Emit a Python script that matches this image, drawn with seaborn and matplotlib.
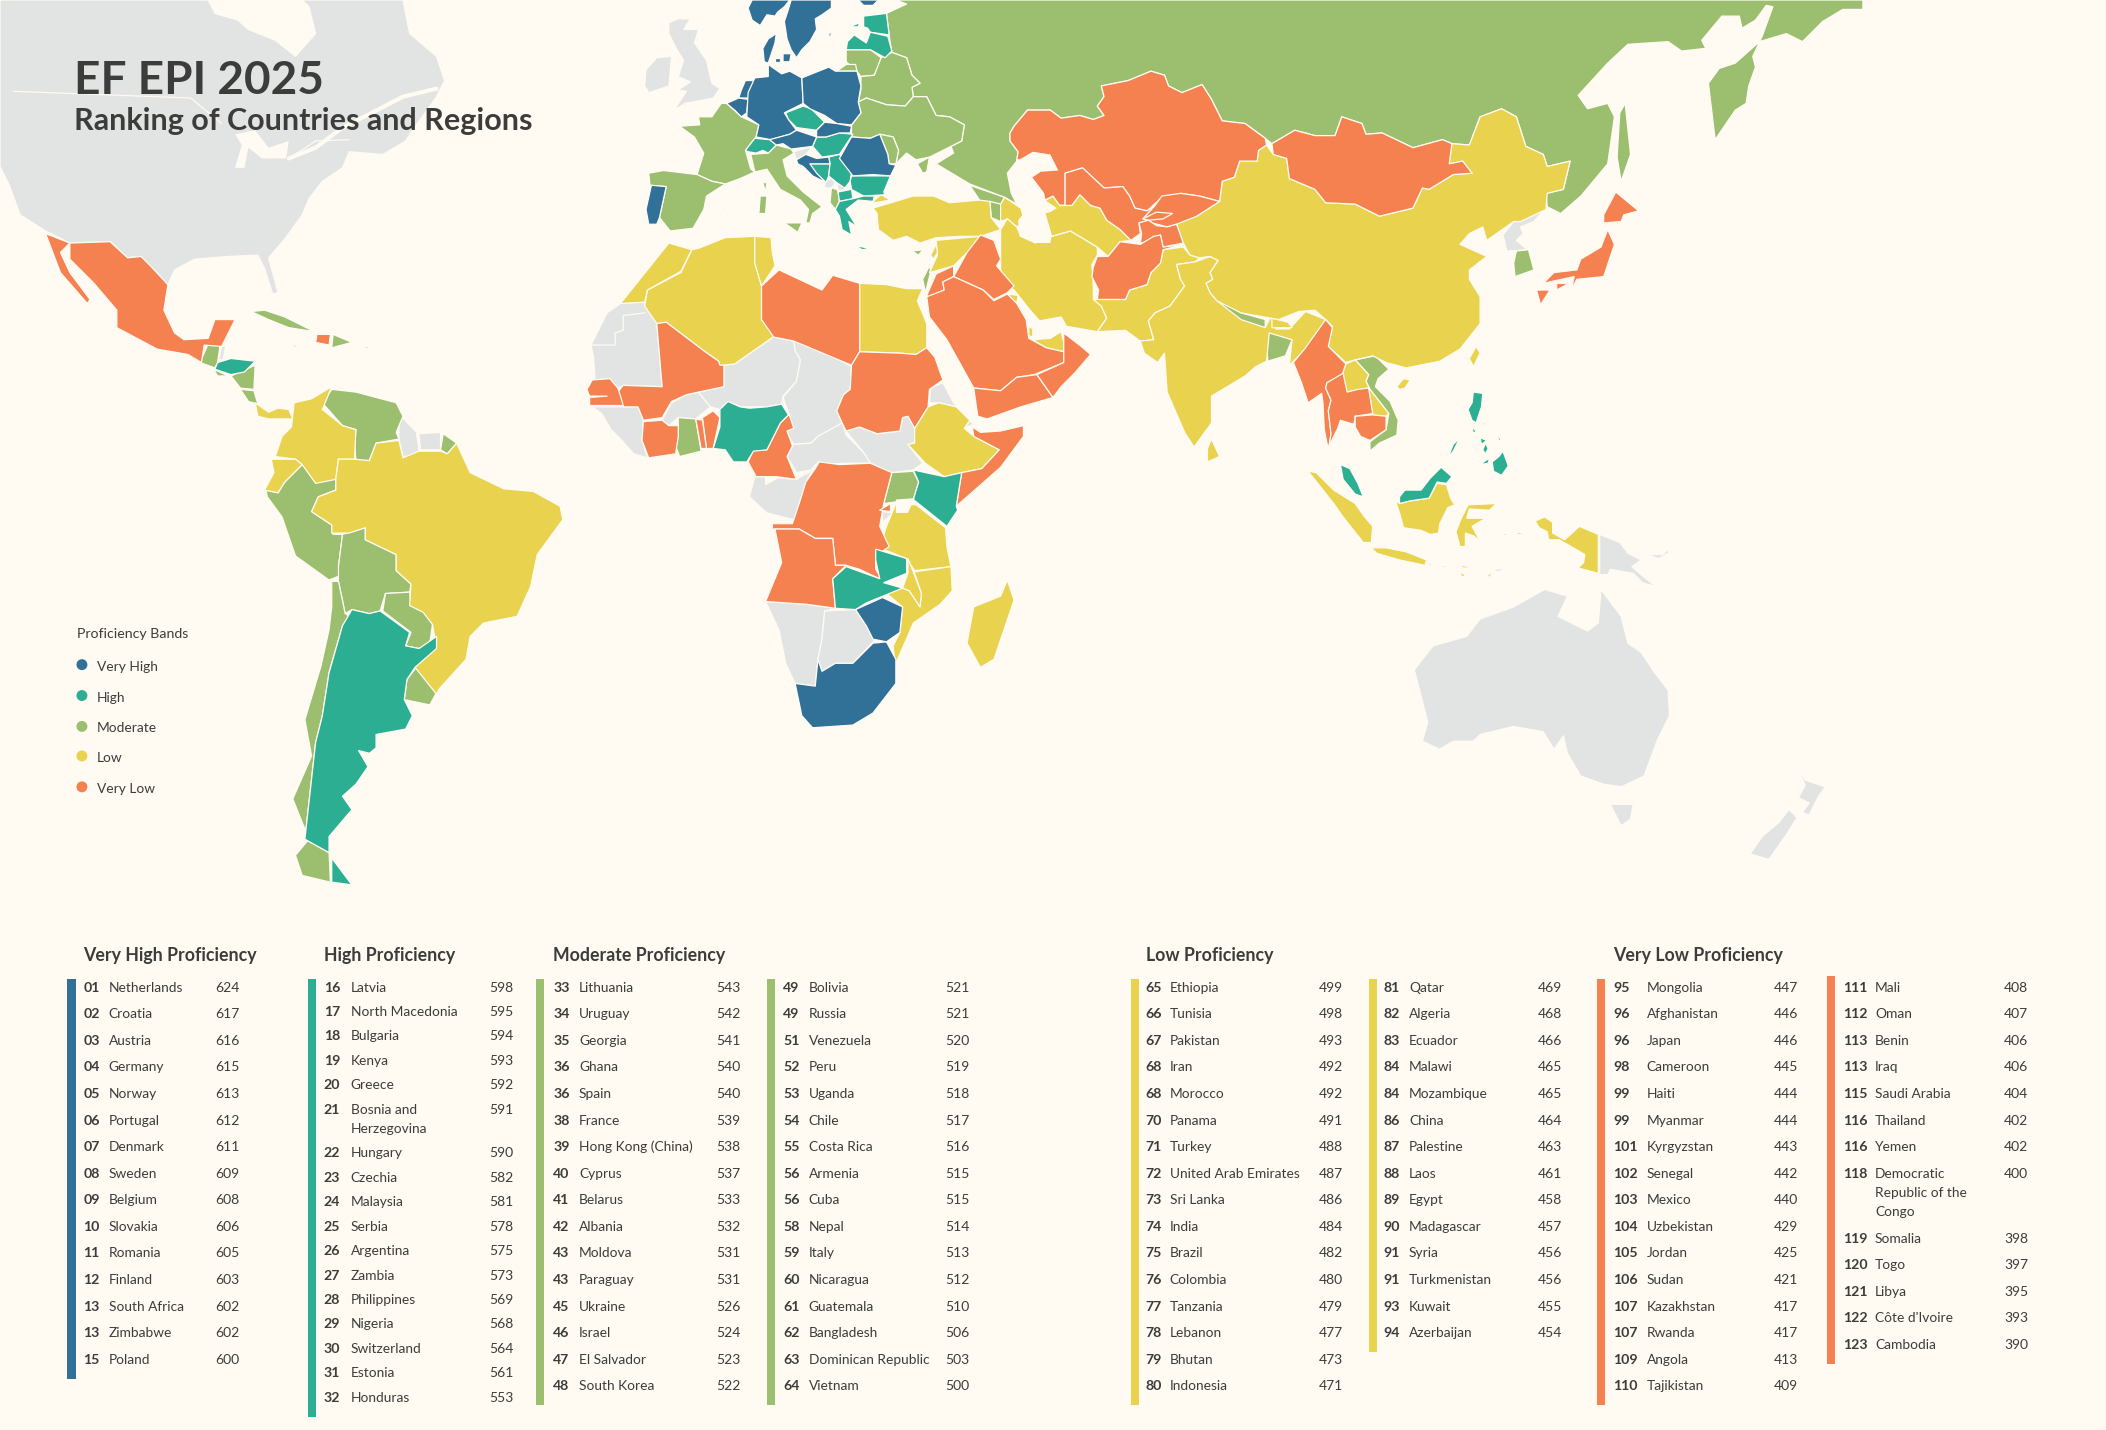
import matplotlib
matplotlib.use("Agg")
import matplotlib.pyplot as plt
import pandas as pd
import seaborn as sns

BG = "#FFFBF3"
INK = "#3C3C3B"
band_colors = {"Very High": "#317097", "High": "#2CAE93", "Moderate": "#9CBE6F",
               "Low": "#E9D24D", "Very Low": "#F4814F"}
NO_DATA = "#E2E3E3"

# table columns: ranks, names, scores. "\n" marks a wrapped name
col1_rank = ["01", "02", "03", "04", "05", "06", "07", "08", "09", "10", "11", "12", "13", "13", "15"]
col1_name = ["Netherlands", "Croatia", "Austria", "Germany", "Norway", "Portugal", "Denmark", "Sweden",
             "Belgium", "Slovakia", "Romania", "Finland", "South Africa", "Zimbabwe", "Poland"]
col1_score = [624, 617, 616, 615, 613, 612, 611, 609, 608, 606, 605, 603, 602, 602, 600]

col2_rank = ["16", "17", "18", "19", "20", "21", "22", "23", "24", "25", "26", "27", "28", "29", "30", "31", "32"]
col2_name = ["Latvia", "North Macedonia", "Bulgaria", "Kenya", "Greece", "Bosnia and\nHerzegovina", "Hungary",
             "Czechia", "Malaysia", "Serbia", "Argentina", "Zambia", "Philippines", "Nigeria", "Switzerland",
             "Estonia", "Honduras"]
col2_score = [598, 595, 594, 593, 592, 591, 590, 582, 581, 578, 575, 573, 569, 568, 564, 561, 553]

col3_rank = ["33", "34", "35", "36", "36", "38", "39", "40", "41", "42", "43", "43", "45", "46", "47", "48"]
col3_name = ["Lithuania", "Uruguay", "Georgia", "Ghana", "Spain", "France", "Hong Kong (China)", "Cyprus", "Belarus",
             "Albania", "Moldova", "Paraguay", "Ukraine", "Israel", "El Salvador", "South Korea"]
col3_score = [543, 542, 541, 540, 540, 539, 538, 537, 533, 532, 531, 531, 526, 524, 523, 522]

col4_rank = ["49", "49", "51", "52", "53", "54", "55", "56", "56", "58", "59", "60", "61", "62", "63", "64"]
col4_name = ["Bolivia", "Russia", "Venezuela", "Peru", "Uganda", "Chile", "Costa Rica", "Armenia", "Cuba", "Nepal",
             "Italy", "Nicaragua", "Guatemala", "Bangladesh", "Dominican Republic", "Vietnam"]
col4_score = [521, 521, 520, 519, 518, 517, 516, 515, 515, 514, 513, 512, 510, 506, 503, 500]

col5_rank = ["65", "66", "67", "68", "68", "70", "71", "72", "73", "74", "75", "76", "77", "78", "79", "80"]
col5_name = ["Ethiopia", "Tunisia", "Pakistan", "Iran", "Morocco", "Panama", "Turkey", "United Arab Emirates",
             "Sri Lanka", "India", "Brazil", "Colombia", "Tanzania", "Lebanon", "Bhutan", "Indonesia"]
col5_score = [499, 498, 493, 492, 492, 491, 488, 487, 486, 484, 482, 480, 479, 477, 473, 471]

col6_rank = ["81", "82", "83", "84", "84", "86", "87", "88", "89", "90", "91", "91", "93", "94"]
col6_name = ["Qatar", "Algeria", "Ecuador", "Malawi", "Mozambique", "China", "Palestine", "Laos", "Egypt",
             "Madagascar", "Syria", "Turkmenistan", "Kuwait", "Azerbaijan"]
col6_score = [469, 468, 466, 465, 465, 464, 463, 461, 458, 457, 456, 456, 455, 454]

col7_rank = ["95", "96", "96", "98", "99", "99", "101", "102", "103", "104", "105", "106", "107", "107", "109", "110"]
col7_name = ["Mongolia", "Afghanistan", "Japan", "Cameroon", "Haiti", "Myanmar", "Kyrgyzstan", "Senegal", "Mexico",
             "Uzbekistan", "Jordan", "Sudan", "Kazakhstan", "Rwanda", "Angola", "Tajikistan"]
col7_score = [447, 446, 446, 445, 444, 444, 443, 442, 440, 429, 425, 421, 417, 417, 413, 409]

col8_rank = ["111", "112", "113", "113", "115", "116", "116", "118", "119", "120", "121", "122", "123"]
col8_name = ["Mali", "Oman", "Benin", "Iraq", "Saudi Arabia", "Thailand", "Yemen", "Democratic\nRepublic of the\nCongo",
             "Somalia", "Togo", "Libya", "Côte d'Ivoire", "Cambodia"]
col8_score = [408, 407, 406, 406, 404, 402, 402, 400, 398, 397, 395, 393, 390]

band_names = ["Very High", "High", "Moderate", "Low", "Very Low"]

# hand traced country outlines, in picture units (1568 wide, y down)
very_high_map = {
    "Norway": [(557, 6), (560, 0), (588, 0), (584, 5), (579, 9), (577, 12), (571, 11), (566, 19), (560, 15)],
    "Sweden": [(589, 0), (619, 0), (619, 6), (612, 11), (607, 14), (608, 22), (603, 31), (597, 37), (593, 43), (589, 37), (586, 29), (584, 16), (587, 7)],
    "Gotland": [(617, 25), (619, 24), (618, 30)],
    "Finland": [(639, 0), (654, 0), (650, 4), (643, 4)],
    "Denmark": [(568, 36), (572, 29), (578, 25), (577, 32), (572, 47), (569, 46)],
    "Fyn": [(577, 43), (581, 43), (581, 46), (577, 46)],
    "Zealand": [(583, 40), (589, 40), (588, 46), (583, 46)],
    "Netherlands": [(555, 60), (562, 60), (562, 66), (557, 73), (550, 73), (552, 67)],
    "Belgium": [(541, 77), (550, 73), (557, 74), (556, 84), (552, 87), (547, 82)],
    "Germany": [(572, 48), (582, 55), (588, 53), (597, 58), (598, 77), (584, 84), (587, 89), (593, 97), (588, 100), (574, 104), (563, 102), (565, 93), (556, 87), (557, 69), (562, 58), (572, 57)],
    "Poland": [(597, 58), (617, 50), (622, 53), (638, 53), (641, 64), (639, 76), (641, 84), (634, 93), (623, 92), (614, 86), (603, 81), (598, 77)],
    "Austria": [(573, 104), (588, 100), (593, 97), (608, 102), (605, 109), (589, 111), (583, 107), (578, 108)],
    "Slovakia": [(608, 97), (614, 91), (623, 92), (634, 94), (633, 99), (625, 99), (615, 102), (608, 102)],
    "Romania": [(634, 102), (648, 103), (655, 100), (661, 115), (662, 122), (667, 123), (663, 131), (650, 130), (635, 131), (625, 118)],
    "Croatia": [(593, 119), (600, 115), (608, 118), (617, 117), (618, 122), (603, 122), (608, 129), (615, 136), (605, 131), (598, 124), (594, 122)],
    "Portugal": [(485, 138), (496, 139), (491, 162), (489, 167), (483, 167), (481, 156)],
    "South Africa": [(592, 509), (607, 511), (609, 491), (612, 500), (622, 494), (635, 494), (650, 479), (660, 478), (667, 491), (667, 509), (650, 531), (635, 540), (605, 542), (597, 533)],
    "Zimbabwe": [(637, 454), (657, 445), (672, 452), (670, 471), (660, 478), (650, 476), (645, 466)],
}
high_map = {
    "Estonia": [(643, 12), (660, 10), (662, 26), (648, 24), (646, 21), (643, 20)],
    "Saaremaa": [(635, 19), (640, 17), (639, 20), (635, 20)],
    "Latvia": [(630, 37), (631, 31), (636, 26), (645, 32), (648, 24), (661, 27), (664, 38), (659, 43), (648, 37)],
    "Czechia": [(585, 84), (598, 79), (604, 81), (614, 91), (608, 97), (593, 95), (587, 89)],
    "Switzerland": [(555, 112), (562, 103), (573, 104), (578, 108), (572, 114), (568, 112), (563, 114), (557, 113)],
    "Hungary": [(605, 109), (608, 102), (615, 102), (625, 99), (635, 100), (625, 115), (612, 117)],
    "Bosnia": [(602, 122), (618, 122), (617, 131), (615, 136), (607, 129)],
    "Serbia": [(617, 117), (625, 115), (634, 128), (633, 135), (629, 140), (623, 136), (617, 131), (618, 122)],
    "Bulgaria": [(634, 131), (650, 131), (663, 131), (658, 143), (659, 145), (643, 146), (634, 141), (633, 135)],
    "North Macedonia": [(624, 143), (634, 141), (635, 148), (625, 150)],
    "Greece": [(625, 150), (635, 148), (643, 146), (651, 146), (650, 150), (639, 149), (630, 156), (638, 169), (632, 165), (634, 175), (627, 171), (625, 161), (622, 156)],
    "Crete": [(637, 183), (648, 185), (642, 186)],
    "Honduras": [(162, 270), (172, 267), (190, 269), (182, 277), (172, 279), (160, 275)],
    "Nigeria": [(536, 305), (542, 299), (551, 303), (558, 304), (571, 303), (582, 301), (587, 309), (581, 315), (571, 335), (561, 336), (556, 344), (546, 344), (540, 335), (531, 334), (536, 318)],
    "Kenya": [(680, 350), (703, 355), (716, 352), (712, 377), (713, 380), (705, 392), (680, 372), (684, 359)],
    "Zambia": [(652, 409), (675, 416), (675, 427), (658, 434), (672, 438), (645, 449), (637, 454), (622, 453), (620, 431), (630, 422), (655, 431), (652, 417)],
    "Argentina": [(262, 454), (275, 457), (283, 455), (305, 471), (302, 481), (312, 483), (325, 474), (325, 483), (309, 497), (303, 506), (301, 521), (307, 533), (302, 543), (280, 547), (280, 557), (275, 561), (267, 559), (274, 571), (265, 584), (255, 593), (262, 603), (245, 623), (245, 635), (227, 625), (235, 553), (240, 533), (245, 501), (255, 466)],
    "Tierra del Fuego": [(247, 639), (262, 659), (247, 657)],
    "Peninsular Malaysia": [(998, 346), (1005, 349), (1011, 360), (1015, 370), (1009, 368), (1000, 357)],
    "East Malaysia": [(1042, 375), (1042, 370), (1046, 365), (1058, 365), (1065, 356), (1073, 348), (1081, 355), (1077, 360), (1070, 359), (1064, 371), (1050, 373)],
    "Luzon": [(1097, 292), (1104, 293), (1103, 303), (1099, 315), (1096, 313), (1093, 305), (1096, 300)],
    "Mindoro": [(1096, 318), (1099, 321), (1097, 323)],
    "Samar": [(1103, 314), (1111, 319), (1104, 316)],
    "Leyte": [(1114, 323), (1118, 328), (1116, 328)],
    "Panay": [(1102, 326), (1107, 328), (1103, 331)],
    "Negros": [(1106, 330), (1108, 334), (1106, 338), (1104, 335)],
    "Palawan": [(1087, 326), (1082, 336), (1078, 341), (1082, 331)],
    "Mindanao": [(1119, 336), (1123, 347), (1118, 354), (1112, 351), (1111, 344), (1116, 340)],
    "Zamboanga": [(1102, 346), (1109, 341), (1108, 345)],
}
moderate_map = {
    "Russia": [(667, 0), (1387, 0), (1387, 7), (1372, 7), (1357, 16), (1342, 31), (1330, 25), (1310, 31), (1292, 47), (1280, 51), (1272, 62), (1277, 104), (1292, 82), (1300, 77), (1302, 64), (1307, 50), (1305, 42), (1312, 27), (1320, 5), (1315, 4), (1307, 15), (1297, 21), (1295, 12), (1282, 12), (1267, 30), (1270, 36), (1252, 38), (1242, 31), (1212, 33), (1197, 47), (1175, 71), (1182, 81), (1197, 77), (1202, 87), (1197, 122), (1177, 146), (1162, 159), (1152, 154), (1151, 144), (1164, 141), (1169, 120), (1152, 124), (1149, 115), (1136, 109), (1129, 87), (1118, 81), (1102, 87), (1094, 108), (1081, 107), (1074, 104), (1052, 110), (1029, 99), (1017, 100), (1014, 92), (999, 87), (994, 101), (979, 101), (964, 97), (947, 107), (942, 103), (927, 92), (910, 90), (902, 74), (895, 63), (880, 69), (870, 64), (867, 56), (857, 53), (840, 60), (820, 64), (822, 72), (817, 79), (822, 86), (814, 89), (804, 86), (790, 88), (782, 82), (765, 82), (755, 94), (752, 99), (752, 105), (758, 113), (757, 120), (750, 129), (753, 144), (757, 152), (748, 147), (722, 137), (697, 122), (710, 114), (708, 109), (716, 105), (718, 93), (707, 87), (697, 86), (690, 72), (680, 72), (679, 65), (685, 62), (679, 56), (675, 43), (664, 39), (662, 26), (660, 10), (675, 3)],
    "Sakhalin": [(1210, 77), (1214, 115), (1207, 135), (1204, 117), (1206, 84)],
    "Lithuania": [(630, 37), (648, 37), (656, 43), (655, 47), (651, 56), (641, 57), (638, 53), (630, 46)],
    "Kaliningrad": [(623, 53), (630, 48), (637, 48), (638, 53)],
    "Belarus": [(641, 57), (651, 56), (656, 43), (664, 39), (675, 43), (679, 56), (685, 62), (679, 65), (680, 72), (674, 79), (660, 78), (645, 73), (639, 76), (641, 67)],
    "Ukraine": [(639, 76), (645, 73), (660, 78), (674, 79), (680, 72), (690, 72), (697, 86), (707, 87), (718, 93), (716, 105), (708, 109), (702, 112), (692, 117), (682, 119), (675, 114), (667, 122), (669, 112), (665, 102), (655, 100), (648, 103), (634, 102), (634, 93), (641, 84)],
    "Crimea": [(683, 122), (692, 117), (690, 128), (687, 129)],
    "Moldova": [(655, 100), (665, 102), (669, 112), (667, 122), (662, 122), (661, 115)],
    "France": [(506, 94), (521, 93), (520, 87), (530, 87), (537, 77), (541, 77), (552, 87), (565, 93), (563, 102), (555, 112), (559, 126), (562, 128), (551, 133), (540, 137), (530, 135), (519, 130), (524, 114), (517, 102)],
    "Spain": [(483, 129), (494, 127), (519, 130), (530, 135), (540, 137), (526, 146), (524, 156), (516, 170), (499, 172), (491, 162), (496, 139), (484, 138)],
    "Italy": [(559, 115), (572, 114), (578, 108), (589, 111), (591, 114), (583, 119), (586, 131), (598, 143), (612, 154), (605, 159), (603, 166), (600, 166), (602, 156), (596, 149), (581, 141), (571, 126), (562, 128)],
    "Sicily": [(584, 166), (597, 166), (594, 173)],
    "Sardinia": [(566, 146), (571, 146), (570, 159), (565, 159)],
    "Corsica": [(568, 136), (571, 136), (570, 143)],
    "Balearics": [(537, 154), (540, 154), (540, 156)],
    "Albania": [(619, 140), (623, 141), (624, 143), (625, 150), (622, 156), (618, 151)],
    "Cyprus": [(679, 187), (687, 186), (684, 190)],
    "Georgia": [(722, 138), (748, 147), (745, 152), (730, 150)],
    "Armenia": [(737, 150), (745, 152), (745, 165), (738, 162)],
    "Israel": [(687, 208), (692, 198), (693, 202), (689, 218)],
    "Guatemala": [(155, 256), (164, 256), (162, 270), (160, 274), (149, 270)],
    "El Salvador": [(159, 275), (170, 280), (162, 280)],
    "Nicaragua": [(172, 280), (190, 272), (189, 290), (179, 289)],
    "Costa Rica": [(179, 290), (189, 291), (192, 301), (185, 299)],
    "Cuba": [(187, 232), (197, 231), (212, 236), (234, 247), (215, 244), (200, 238)],
    "Dominican Republic": [(248, 249), (262, 255), (247, 259)],
    "Venezuela": [(240, 300), (247, 290), (265, 292), (295, 300), (300, 310), (295, 322), (297, 327), (280, 330), (275, 343), (265, 343), (264, 330), (265, 320), (255, 317)],
    "French Guiana": [(330, 323), (340, 330), (333, 338), (328, 335)],
    "Peru": [(225, 346), (250, 357), (250, 365), (237, 370), (232, 381), (247, 391), (248, 398), (255, 398), (252, 422), (255, 428), (245, 432), (220, 414), (210, 385), (199, 370), (198, 365), (207, 367), (212, 359)],
    "Bolivia": [(255, 398), (272, 393), (272, 402), (295, 413), (295, 425), (306, 435), (305, 441), (287, 442), (283, 455), (275, 457), (262, 454), (257, 457), (252, 433), (252, 422)],
    "Paraguay": [(287, 442), (305, 441), (306, 451), (316, 456), (322, 465), (320, 479), (312, 483), (302, 481), (306, 471), (285, 455)],
    "Uruguay": [(310, 497), (326, 514), (320, 525), (301, 521), (303, 506)],
    "Chile": [(247, 433), (252, 433), (257, 457), (262, 460), (255, 466), (245, 501), (240, 533), (235, 553), (227, 625), (245, 635), (246, 657), (225, 652), (220, 637), (230, 625), (218, 595), (232, 563), (227, 536), (239, 496), (245, 469), (247, 452)],
    "Ghana": [(505, 311), (518, 312), (522, 336), (506, 340), (503, 332), (505, 325)],
    "Uganda": [(664, 352), (680, 351), (684, 359), (680, 372), (658, 375)],
    "Nepal": [(907, 223), (924, 233), (942, 238), (942, 244), (924, 240), (907, 232), (904, 227)],
    "Bangladesh": [(942, 246), (962, 253), (957, 265), (944, 269)],
    "Vietnam": [(1009, 268), (1024, 265), (1034, 275), (1026, 282), (1024, 288), (1035, 299), (1041, 313), (1040, 324), (1027, 330), (1020, 336), (1020, 329), (1032, 320), (1034, 308), (1020, 290), (1017, 284), (1019, 279)],
    "South Korea": [(1129, 187), (1138, 186), (1142, 201), (1128, 206), (1127, 196)],
}
low_map = {
    "Turkey": [(650, 155), (680, 146), (695, 146), (707, 151), (729, 149), (737, 150), (738, 162), (745, 171), (730, 176), (715, 176), (697, 177), (685, 181), (675, 176), (665, 179), (654, 171), (653, 159)],
    "Thrace": [(650, 150), (656, 145), (663, 149), (651, 151)],
    "Azerbaijan": [(748, 147), (760, 155), (763, 165), (757, 169), (750, 163), (745, 165), (745, 152)],
    "Iran": [(745, 171), (750, 163), (757, 169), (760, 176), (771, 181), (783, 176), (797, 172), (817, 184), (817, 190), (813, 197), (814, 213), (814, 222), (820, 228), (824, 237), (817, 247), (794, 243), (790, 236), (774, 239), (767, 231), (755, 216), (750, 213), (745, 201)],
    "Turkmenistan": [(777, 150), (784, 146), (789, 153), (798, 153), (804, 145), (812, 153), (819, 155), (824, 164), (834, 171), (842, 179), (834, 180), (825, 191), (817, 184), (797, 172), (783, 176), (778, 159)],
    "Pakistan": [(814, 223), (838, 223), (841, 216), (854, 212), (857, 203), (864, 196), (866, 186), (881, 184), (886, 190), (893, 192), (890, 195), (876, 197), (879, 208), (882, 213), (871, 228), (860, 233), (855, 239), (859, 253), (849, 254), (838, 246), (817, 247), (824, 237), (820, 228)],
    "India": [(876, 197), (890, 195), (901, 191), (907, 194), (901, 203), (903, 208), (898, 211), (901, 218), (906, 224), (924, 238), (942, 244), (946, 236), (950, 245), (960, 245), (972, 232), (987, 238), (992, 245), (989, 258), (972, 260), (960, 272), (962, 253), (945, 248), (943, 269), (935, 273), (927, 280), (902, 295), (902, 315), (889, 333), (882, 322), (869, 292), (867, 263), (862, 270), (852, 263), (849, 254), (859, 253), (855, 239), (860, 233), (871, 228), (882, 213), (879, 208)],
    "Bhutan": [(947, 237), (959, 240), (962, 244), (947, 244)],
    "Sri Lanka": [(902, 327), (908, 340), (899, 344), (899, 334)],
    "China": [(943, 108), (948, 115), (958, 118), (960, 133), (979, 141), (987, 151), (1009, 152), (1027, 161), (1052, 155), (1059, 140), (1064, 141), (1082, 130), (1096, 129), (1089, 120), (1079, 122), (1081, 107), (1094, 108), (1102, 87), (1118, 81), (1129, 87), (1136, 109), (1149, 115), (1152, 124), (1169, 120), (1164, 141), (1152, 144), (1151, 156), (1132, 165), (1127, 165), (1107, 179), (1104, 169), (1094, 174), (1087, 182), (1107, 191), (1094, 201), (1094, 208), (1102, 221), (1102, 231), (1102, 241), (1087, 260), (1072, 269), (1047, 274), (1032, 270), (1022, 265), (1009, 268), (1002, 270), (989, 258), (992, 243), (987, 238), (979, 231), (967, 232), (952, 238), (924, 233), (906, 224), (901, 218), (898, 211), (903, 208), (901, 203), (907, 194), (901, 191), (893, 192), (886, 190), (881, 181), (876, 167), (879, 165), (891, 161), (908, 150), (910, 135), (919, 132), (923, 120), (936, 120), (937, 112)],
    "Hainan": [(1040, 288), (1045, 282), (1050, 283), (1046, 289), (1042, 290)],
    "Taiwan": [(1099, 258), (1102, 263), (1097, 273), (1094, 267)],
    "Laos": [(1002, 271), (1009, 268), (1019, 279), (1017, 284), (1020, 290), (1034, 308), (1032, 310), (1022, 309), (1019, 289), (1003, 292), (999, 280)],
    "Sumatra": [(974, 351), (980, 352), (993, 365), (1009, 375), (1016, 385), (1022, 392), (1021, 404), (1015, 404), (1000, 385), (993, 375)],
    "Kalimantan": [(1039, 373), (1042, 375), (1050, 373), (1064, 371), (1070, 360), (1077, 361), (1080, 371), (1083, 376), (1078, 378), (1072, 390), (1071, 397), (1065, 398), (1058, 395), (1045, 393), (1042, 382)],
    "Java": [(1021, 408), (1032, 408), (1047, 411), (1062, 417), (1061, 421), (1042, 417), (1025, 412)],
    "Bali": [(1064, 419), (1067, 421), (1064, 421)],
    "Lombok": [(1073, 421), (1078, 422), (1075, 423)],
    "Flores": [(1088, 421), (1099, 423), (1089, 423)],
    "Sumba": [(1086, 426), (1091, 428), (1089, 430)],
    "Timor": [(1107, 429), (1112, 425), (1109, 430)],
    "Seram": [(1129, 396), (1139, 399), (1130, 398)],
    "Buru": [(1119, 397), (1123, 398), (1120, 399)],
    "Sulawesi": [(1093, 376), (1114, 375), (1109, 380), (1094, 379), (1092, 386), (1106, 386), (1096, 392), (1102, 403), (1097, 399), (1091, 397), (1091, 407), (1087, 407), (1084, 396), (1088, 386)],
    "Papua": [(1143, 388), (1150, 385), (1156, 389), (1156, 397), (1165, 402), (1176, 392), (1190, 398), (1190, 427), (1175, 423), (1179, 419), (1180, 413), (1161, 402), (1153, 402), (1152, 396), (1146, 393)],
    "Algeria": [(520, 185), (540, 177), (562, 176), (562, 196), (567, 213), (567, 238), (577, 250), (547, 271), (539, 272), (536, 272), (535, 269), (525, 262), (496, 240), (489, 241), (480, 228), (482, 216), (507, 203), (515, 186)],
    "Tunisia": [(562, 176), (574, 177), (575, 188), (577, 198), (567, 213), (562, 196)],
    "Morocco": [(498, 181), (515, 186), (507, 202), (482, 216), (480, 225), (462, 226), (478, 206)],
    "Egypt": [(640, 211), (660, 212), (675, 215), (687, 215), (683, 224), (690, 241), (690, 259), (682, 264), (670, 263), (640, 262)],
    "Ethiopia": [(681, 319), (691, 303), (699, 300), (712, 303), (722, 313), (718, 319), (725, 325), (744, 335), (731, 349), (716, 352), (703, 355), (689, 345), (676, 331), (681, 330)],
    "Tanzania": [(667, 375), (682, 376), (704, 393), (705, 407), (708, 422), (681, 425), (675, 416), (655, 408), (660, 392)],
    "Mozambique": [(680, 426), (708, 422), (709, 440), (700, 450), (680, 464), (677, 471), (667, 494), (667, 501), (665, 481), (670, 471), (672, 452), (659, 441), (672, 438), (677, 440), (685, 452), (686, 442), (681, 427)],
    "Malawi": [(676, 416), (680, 426), (686, 442), (685, 452), (677, 440), (672, 438), (676, 427)],
    "Madagascar": [(750, 432), (755, 447), (740, 491), (730, 497), (720, 479), (725, 452), (745, 444)],
    "Syria": [(697, 179), (730, 176), (722, 186), (710, 198), (692, 203), (698, 190)],
    "Lebanon": [(693, 190), (697, 182), (698, 188), (695, 193)],
    "Kuwait": [(750, 219), (758, 220), (757, 226)],
    "Qatar": [(766, 243), (769, 245), (769, 251), (766, 250)],
    "UAE": [(769, 253), (782, 252), (790, 247), (792, 255), (792, 262), (779, 259)],
    "Panama": [(190, 300), (200, 307), (207, 304), (215, 305), (218, 312), (208, 312), (200, 312), (192, 310)],
    "Colombia": [(247, 288), (240, 305), (255, 317), (265, 320), (264, 342), (252, 342), (250, 357), (235, 360), (225, 346), (220, 342), (205, 340), (210, 325), (217, 318), (219, 300), (232, 297)],
    "Ecuador": [(202, 342), (220, 342), (225, 346), (212, 359), (207, 367), (197, 365), (204, 352)],
    "Brazil": [(250, 357), (252, 342), (264, 342), (275, 343), (280, 330), (297, 328), (300, 341), (312, 336), (328, 336), (333, 338), (340, 330), (350, 352), (375, 364), (397, 366), (417, 377), (419, 387), (400, 413), (395, 437), (385, 459), (360, 464), (350, 474), (347, 491), (327, 513), (325, 517), (309, 497), (325, 482), (322, 465), (315, 456), (305, 451), (306, 435), (295, 425), (295, 413), (272, 402), (272, 393), (260, 397), (247, 397), (247, 391), (232, 381), (237, 370), (250, 365)],
}
very_low_map = {
    "Kazakhstan": [(752, 99), (755, 94), (765, 82), (782, 82), (790, 88), (804, 86), (814, 89), (822, 86), (817, 79), (822, 72), (820, 64), (840, 60), (857, 53), (867, 56), (870, 64), (880, 69), (895, 63), (902, 74), (910, 90), (927, 92), (942, 103), (943, 108), (937, 112), (936, 120), (923, 120), (919, 132), (910, 135), (908, 150), (893, 146), (879, 144), (864, 148), (854, 157), (845, 155), (841, 146), (836, 139), (822, 140), (806, 125), (793, 129), (793, 153), (789, 153), (784, 146), (778, 149), (777, 144), (768, 132), (774, 128), (770, 120), (757, 119), (758, 113), (752, 105)],
    "Uzbekistan": [(789, 153), (793, 153), (793, 129), (806, 125), (822, 140), (836, 139), (841, 146), (845, 155), (854, 157), (860, 153), (851, 163), (855, 164), (848, 166), (849, 174), (842, 179), (834, 171), (824, 164), (819, 155), (812, 153), (804, 145), (798, 153)],
    "Kyrgyzstan": [(860, 153), (865, 146), (879, 144), (893, 146), (908, 150), (891, 161), (876, 167), (869, 169), (858, 166), (855, 164), (851, 163)],
    "Fergana": [(851, 163), (861, 158), (873, 159), (866, 163), (855, 164)],
    "Tajikistan": [(848, 166), (855, 164), (861, 168), (869, 169), (876, 167), (881, 181), (866, 184), (864, 175), (857, 180), (849, 181), (850, 174)],
    "Afghanistan": [(814, 199), (817, 191), (825, 191), (834, 180), (849, 182), (859, 176), (864, 175), (866, 184), (881, 182), (866, 186), (864, 196), (857, 203), (854, 212), (841, 216), (838, 223), (817, 223), (818, 216), (813, 206)],
    "Mongolia": [(947, 107), (964, 97), (979, 101), (994, 101), (999, 87), (1014, 92), (1017, 100), (1029, 99), (1052, 110), (1074, 104), (1081, 107), (1079, 122), (1089, 120), (1096, 129), (1082, 130), (1064, 141), (1059, 140), (1052, 155), (1027, 161), (1009, 152), (987, 151), (979, 141), (960, 133), (958, 118), (948, 115)],
    "Myanmar": [(987, 238), (992, 244), (989, 258), (1002, 271), (999, 280), (988, 285), (987, 289), (991, 298), (989, 306), (991, 323), (989, 335), (986, 320), (985, 300), (984, 293), (974, 300), (969, 285), (963, 270), (972, 259)],
    "Thailand": [(988, 285), (1000, 278), (1003, 292), (1011, 290), (1019, 289), (1022, 308), (1009, 310), (1008, 316), (998, 313), (996, 319), (991, 329), (989, 335), (998, 345), (1006, 349), (998, 346), (989, 336), (991, 323), (989, 306), (991, 298), (987, 289)],
    "Cambodia": [(1009, 310), (1022, 309), (1032, 310), (1032, 320), (1020, 328), (1013, 325), (1009, 318)],
    "Hokkaido": [(1203, 143), (1220, 157), (1209, 160), (1207, 165), (1194, 166), (1194, 160)],
    "Honshu": [(1197, 171), (1202, 182), (1194, 206), (1174, 208), (1170, 216), (1172, 206), (1149, 211), (1157, 203), (1174, 201), (1177, 193), (1192, 184)],
    "Kyushu": [(1144, 216), (1154, 216), (1147, 227)],
    "Shikoku": [(1159, 211), (1168, 211), (1159, 216)],
    "Mexico": [(52, 181), (82, 180), (95, 192), (105, 191), (112, 198), (125, 212), (122, 231), (130, 248), (137, 253), (155, 252), (160, 238), (175, 238), (165, 258), (152, 257), (150, 270), (140, 264), (117, 260), (87, 244), (87, 231), (70, 211), (52, 193)],
    "Baja": [(34, 174), (52, 181), (45, 188), (52, 203), (67, 223), (65, 226), (45, 203)],
    "Haiti": [(236, 249), (246, 249), (245, 257), (235, 255)],
    "Iraq": [(730, 175), (740, 179), (745, 193), (742, 198), (755, 213), (750, 218), (740, 223), (732, 216), (710, 206), (720, 188)],
    "Jordan": [(690, 220), (697, 204), (710, 198), (710, 206), (702, 210), (703, 216), (692, 221)],
    "Saudi Arabia": [(690, 221), (703, 216), (702, 210), (710, 206), (732, 216), (740, 224), (750, 219), (757, 226), (764, 238), (766, 252), (779, 259), (792, 262), (792, 270), (770, 279), (757, 281), (745, 291), (725, 289), (705, 253), (692, 236)],
    "Yemen": [(725, 289), (745, 291), (757, 281), (772, 279), (784, 296), (760, 303), (735, 312), (728, 310)],
    "Oman": [(792, 248), (805, 258), (812, 264), (800, 278), (790, 288), (784, 296), (772, 279), (792, 270), (792, 255)],
    "Libya": [(580, 201), (612, 216), (620, 205), (640, 211), (640, 262), (634, 272), (591, 254), (576, 251), (567, 238), (567, 213)],
    "Sudan": [(634, 272), (640, 262), (670, 263), (682, 264), (690, 259), (696, 266), (702, 283), (692, 290), (691, 303), (681, 319), (676, 310), (672, 311), (670, 321), (653, 323), (640, 318), (630, 321), (627, 315), (623, 306), (628, 294), (633, 290)],
    "Mali": [(489, 241), (496, 240), (525, 262), (535, 269), (536, 272), (539, 272), (539, 288), (520, 292), (511, 294), (500, 299), (493, 311), (479, 313), (475, 303), (464, 303), (460, 292), (464, 287), (493, 288)],
    "Senegal": [(437, 290), (441, 283), (454, 282), (460, 289), (462, 295), (464, 302), (439, 302), (439, 296), (452, 295), (439, 295)],
    "Benin": [(523, 311), (531, 306), (536, 311), (531, 334), (526, 334)],
    "Togo": [(518, 312), (523, 313), (526, 334), (522, 334)],
    "Cote d'Ivoire": [(479, 314), (493, 313), (498, 317), (505, 317), (505, 325), (503, 338), (483, 341), (478, 328)],
    "Cameroon": [(586, 304), (591, 319), (586, 321), (590, 332), (586, 340), (593, 357), (578, 355), (563, 355), (557, 344), (561, 335), (571, 335), (581, 315), (587, 309)],
    "DR Congo": [(607, 349), (610, 344), (625, 346), (648, 345), (664, 352), (658, 375), (655, 392), (662, 407), (652, 414), (652, 424), (657, 432), (640, 424), (630, 421), (622, 421), (620, 401), (607, 401), (595, 394), (575, 394), (575, 390), (590, 390), (596, 372), (600, 359)],
    "Angola": [(577, 394), (595, 394), (607, 401), (620, 401), (622, 421), (630, 421), (620, 431), (622, 453), (600, 450), (570, 448), (582, 419)],
    "Rwanda": [(655, 380), (663, 375), (663, 381)],
    "Somalia": [(725, 325), (744, 335), (731, 349), (716, 352), (712, 377), (745, 348), (762, 325), (762, 317), (745, 321), (730, 322), (724, 318)],
}
no_data_map = {
    "North America": [(0, 0), (155, 0), (160, 10), (177, 15), (185, 22), (205, 30), (220, 42), (235, 25), (230, 5), (225, 0), (300, 0), (305, 25), (325, 42), (331, 60), (325, 72), (305, 100), (302, 105), (285, 115), (260, 113), (255, 125), (240, 135), (230, 148), (225, 160), (212, 178), (200, 192), (207, 218), (203, 219), (197, 200), (192, 190), (170, 191), (145, 193), (130, 201), (125, 212), (112, 198), (105, 191), (95, 192), (82, 180), (52, 181), (34, 172), (15, 160), (7, 138), (0, 124)],
    "Britain": [(498, 17), (505, 14), (514, 14), (509, 22), (520, 22), (517, 32), (526, 45), (530, 62), (536, 66), (531, 73), (510, 77), (502, 82), (511, 68), (505, 67), (514, 61), (505, 57), (509, 45), (504, 37), (498, 25)],
    "Ireland": [(481, 52), (489, 43), (500, 42), (498, 64), (483, 69), (480, 64)],
    "Slovenia": [(591, 113), (605, 109), (600, 115), (593, 119)],
    "Kosovo": [(614, 135), (619, 133), (622, 136), (619, 140), (614, 140)],
    "Montenegro": [(623, 136), (629, 136), (629, 141), (624, 142)],
    "Belize": [(165, 258), (168, 258), (166, 268), (163, 268)],
    "Jamaica": [(217, 256), (223, 258), (219, 259)],
    "Puerto Rico": [(268, 258), (275, 258), (274, 260)],
    "Guyana": [(297, 308), (310, 322), (312, 335), (308, 340), (300, 340), (297, 327)],
    "Suriname": [(312, 323), (328, 322), (328, 335), (313, 335)],
    "Mauritania": [(440, 257), (452, 233), (462, 226), (480, 225), (480, 228), (491, 240), (489, 241), (493, 288), (464, 287), (460, 289), (454, 282), (443, 283), (442, 266)],
    "Guinea": [(441, 303), (464, 303), (475, 303), (479, 313), (478, 328), (482, 341), (472, 338), (463, 328), (455, 320), (448, 308)],
    "Burkina Faso": [(493, 313), (500, 300), (511, 294), (520, 292), (529, 303), (518, 312), (505, 311), (498, 317)],
    "Niger": [(520, 292), (539, 288), (539, 272), (547, 271), (576, 251), (591, 254), (592, 261), (596, 268), (593, 284), (583, 295), (582, 301), (571, 303), (558, 303), (551, 303), (542, 299), (536, 305), (529, 303)],
    "Chad": [(591, 254), (596, 253), (634, 273), (633, 290), (628, 294), (623, 306), (627, 315), (609, 325), (604, 330), (591, 331), (585, 321), (591, 319), (583, 296), (593, 284), (596, 268), (592, 261)],
    "South Sudan": [(630, 321), (640, 318), (653, 323), (670, 321), (672, 311), (676, 310), (681, 319), (681, 330), (676, 331), (687, 345), (680, 350), (664, 352), (648, 345), (643, 337)],
    "Central African Republic": [(591, 331), (604, 330), (609, 325), (627, 315), (630, 324), (643, 337), (648, 345), (630, 345), (613, 346), (609, 344), (604, 350), (593, 352), (586, 340)],
    "Congo": [(562, 355), (570, 355), (570, 361), (579, 356), (593, 357), (605, 350), (600, 359), (596, 372), (591, 387), (571, 382), (558, 370)],
    "Eritrea": [(692, 300), (693, 289), (702, 285), (710, 300), (722, 313), (712, 303), (699, 300)],
    "Djibouti": [(718, 319), (722, 313), (725, 316)],
    "Burundi": [(657, 381), (665, 382), (657, 389)],
    "Namibia": [(570, 448), (600, 450), (622, 453), (614, 455), (612, 476), (609, 491), (607, 511), (592, 509), (585, 494), (580, 469)],
    "Botswana": [(614, 455), (637, 454), (645, 466), (652, 476), (635, 494), (622, 494), (612, 500), (609, 491), (612, 476)],
    "Lesotho": [(647, 511), (652, 516), (645, 522), (641, 517)],
    "Eswatini": [(660, 497), (665, 497), (665, 505), (660, 505)],
    "North Korea": [(1149, 157), (1142, 165), (1132, 169), (1134, 174), (1129, 179), (1137, 186), (1122, 187), (1119, 175), (1127, 165)],
    "East Timor": [(1112, 424), (1122, 423), (1115, 426)],
    "Papua New Guinea": [(1191, 398), (1206, 404), (1212, 412), (1222, 417), (1215, 422), (1223, 429), (1233, 437), (1223, 434), (1216, 427), (1199, 424), (1197, 428), (1191, 428)],
    "New Britain": [(1226, 413), (1238, 413), (1243, 408), (1242, 412), (1235, 416)],
    "Australia": [(1150, 439), (1167, 444), (1160, 459), (1182, 470), (1190, 464), (1192, 439), (1207, 459), (1212, 479), (1222, 486), (1232, 501), (1242, 514), (1243, 533), (1234, 551), (1224, 578), (1207, 586), (1194, 584), (1177, 578), (1167, 561), (1164, 548), (1157, 558), (1149, 545), (1127, 541), (1102, 547), (1097, 552), (1082, 552), (1072, 558), (1059, 552), (1063, 538), (1057, 514), (1053, 499), (1067, 481), (1092, 474), (1102, 461), (1127, 452)],
    "Tasmania": [(1199, 599), (1216, 599), (1214, 610), (1207, 615)],
    "New Zealand North": [(1337, 568), (1344, 581), (1359, 586), (1354, 593), (1347, 607), (1342, 605), (1347, 598), (1339, 594), (1344, 585)],
    "New Zealand South": [(1332, 603), (1338, 609), (1329, 623), (1317, 640), (1303, 636), (1312, 623), (1324, 613)],
}
# water and borders drawn over the land
lakes = [
    [(175, 125), (180, 108), (175, 100), (190, 97), (200, 110), (215, 105), (213, 118), (195, 118), (185, 110), (182, 125)],
    [(667, 372), (681, 371), (676, 382), (667, 382)],
    [(769, 113), (782, 115), (788, 127), (774, 128), (768, 132), (777, 144), (778, 149), (787, 155), (782, 158), (778, 159), (783, 176), (782, 181), (771, 181), (759, 176), (758, 164), (763, 158), (753, 144), (750, 129), (757, 120)],
]
border_lines = [
    [(10, 68), (142, 73), (165, 92)],
    [(215, 118), (235, 105), (260, 104)],
    [(440, 257), (458, 257), (458, 248), (464, 246), (464, 235), (480, 233)],
]
st_lawrence = [(325, 66), (300, 72), (275, 85), (255, 95), (235, 110), (215, 118)]

sns.set_theme(style="white", rc={"figure.facecolor": BG, "axes.facecolor": BG})
plt.rcParams["font.family"] = ["Lato", "DejaVu Sans"]

fig, ax = plt.subplots(figsize=(21.06, 14.30), dpi=100)
ax.set_position([0, 0, 1, 1])
ax.set_xlim(0, 1568)
ax.set_ylim(1065, 0)
ax.axis("off")


def draw_map(outlines, color):
    for outline in outlines.values():
        xs, ys = zip(*outline)
        ax.fill(xs, ys, facecolor=color, edgecolor=BG, linewidth=0.9, joinstyle="round", zorder=2)


draw_map(no_data_map, NO_DATA)
draw_map(moderate_map, band_colors["Moderate"])
draw_map(low_map, band_colors["Low"])
draw_map(very_low_map, band_colors["Very Low"])
draw_map(high_map, band_colors["High"])
draw_map(very_high_map, band_colors["Very High"])

for lake in lakes:
    xs, ys = zip(*lake)
    ax.fill(xs, ys, facecolor=BG, edgecolor="none", zorder=3)
for line in border_lines:
    xs, ys = zip(*line)
    ax.plot(xs, ys, color=BG, lw=0.9, zorder=3)
xs, ys = zip(*st_lawrence)
ax.plot(xs, ys, color=BG, lw=3.0, zorder=3)

# title
ax.text(55, 60.5, "EF EPI 2025", fontsize=33, fontweight="bold", color=INK, va="center", zorder=5)
ax.text(55, 90, "Ranking of Countries and Regions", fontsize=22, fontweight="bold", color=INK, va="center", zorder=5)

# legend
legend_y = [495, 518, 541, 563, 586]
legend_pd = pd.DataFrame({"x": [61] * 5, "y": legend_y, "band": band_names})
sns.scatterplot(data=legend_pd, x="x", y="y", hue="band", palette=band_colors, s=62, linewidth=0,
                legend=False, ax=ax, zorder=5)
ax.set_xlim(0, 1568)
ax.set_ylim(1065, 0)
ax.text(57, 472.5, "Proficiency Bands", fontsize=10.2, color=INK, va="center")
for y, band in zip(legend_y, band_names):
    ax.text(72, y + 1.5, band, fontsize=9.9, color=INK, va="center")

# table
columns = [
    (col1_rank, col1_name, col1_score, "Very High", 50, 62, 81, 160, 19.8, 729),
    (col2_rank, col2_name, col2_score, "High", 229, 241, 261, 364, 18.2, 729),
    (col3_rank, col3_name, col3_score, "Moderate", 399, 412, 431, 533, 19.8, 729),
    (col4_rank, col4_name, col4_score, "Moderate", 571, 583, 602, 704, 19.8, 729),
    (col5_rank, col5_name, col5_score, "Low", 842, 853, 871, 982, 19.8, 729),
    (col6_rank, col6_name, col6_score, "Low", 1019, 1030, 1049, 1145, 19.8, 729),
    (col7_rank, col7_name, col7_score, "Very Low", 1189, 1201, 1226, 1321, 19.8, 729),
    (col8_rank, col8_name, col8_score, "Very Low", 1360, 1372, 1396, 1492, 19.8, 727),
]
headers = {"Very High Proficiency": 62, "High Proficiency": 241, "Moderate Proficiency": 412,
           "Low Proficiency": 853, "Very Low Proficiency": 1201}
for header, x in headers.items():
    ax.text(x, 711.5, header, fontsize=12.8, fontweight="bold", color=INK, va="center")

for ranks, names, scores, band, bar_x, rank_x, name_x, score_x, step, bar_top in columns:
    y = 734
    for rank, name, score in zip(ranks, names, scores):
        ax.text(rank_x, y + 1.5, rank, fontsize=10.2, fontweight="bold", color=INK, va="center")
        ax.text(score_x, y + 1.5, str(score), fontsize=10, color=INK, va="center")
        lines = name.split("\n")
        for i, line in enumerate(lines):
            ax.text(name_x, y + 1.5 + i * 14.3, line, fontsize=9.9, color=INK, va="center")
        last_y = y
        y += step + (len(lines) - 1) * 14.3
    ax.fill_between([bar_x, bar_x + 6.3], bar_top, last_y + 15.5, color=band_colors[band], linewidth=0)

fig.savefig("out.png", dpi=100, facecolor=BG)
